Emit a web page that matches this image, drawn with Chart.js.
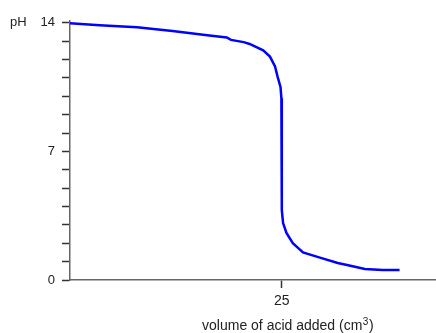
<!DOCTYPE html>
<html>
<head>
<meta charset="utf-8">
<script src="https://cdn.jsdelivr.net/npm/chart.js@4/dist/chart.umd.min.js"></script>
<style>
  html, body { margin: 0; padding: 0; background: #fff; }
  #wrap { width: 436px; height: 333px; }
</style>
</head>
<body>
<div id="wrap"><canvas id="titration"></canvas></div>
<script>
// volume of acid added (cm3) and the pH
const volume = [0, 3.5, 7.9, 12.1, 16.2, 18.5, 19.0, 20.5, 21.2, 22.8, 23.6, 24.2, 24.5, 24.85, 24.95,
                25.0, 25.15, 25.55, 26.3, 27.5, 29.5, 31.6, 32.7, 34.8, 36.9, 38.9];
const pH = [13.98, 13.87, 13.76, 13.56, 13.32, 13.2, 13.07, 12.95, 12.85, 12.5, 12.16, 11.62, 11.07, 10.5, 9.9,
            3.8, 3.1, 2.56, 2.0, 1.5, 1.22, 0.93, 0.82, 0.6, 0.54, 0.54];

const yTicks = [0, 1, 2, 3, 4, 5, 6, 7, 8, 9, 10, 11, 12, 13, 14];
const yLabels = [0, 7, 14];
const xTicks = [25];

const FONT = 'Liberation Sans, Arial, sans-serif';

// the "pH" and axis-title text (with a raised 3 for cm3)
const labelsPlugin = {
    id: 'axisText',
    afterDraw(chart) {
        const ctx = chart.ctx;
        ctx.save();
        ctx.fillStyle = '#222';
        ctx.font = '13px ' + FONT;
        ctx.textBaseline = 'middle';
        ctx.textAlign = 'left';
        ctx.fillText('pH', 10, chart.scales.y.getPixelForValue(14));

        const main = 'volume of acid added (cm';
        ctx.font = '14px ' + FONT;
        const w1 = ctx.measureText(main).width;
        const w3 = ctx.measureText(')').width;
        ctx.font = '10px ' + FONT;
        const w2 = ctx.measureText('3').width + 1;
        const total = w1 + w2 + w3;
        let x = chart.scales.x.getPixelForValue(25) + 6 - total / 2;
        const y = 326;
        ctx.font = '14px ' + FONT;
        ctx.fillText(main, x, y);
        ctx.font = '10px ' + FONT;
        ctx.fillText('3', x + w1 + 0.5, y - 4);
        ctx.font = '14px ' + FONT;
        ctx.fillText(')', x + w1 + w2, y);
        ctx.restore();
    }
};

const ctx = document.getElementById('titration').getContext('2d');
const chart = new Chart(ctx, {
    type: 'line',
    data: {
        datasets: [
            {
                data: volume.map((v, i) => ({ x: v, y: pH[i] })),
                borderColor: '#0000ff',
                borderWidth: 2.5,
                pointRadius: 0,
                tension: 0,
                fill: false
            }
        ]
    },
    plugins: [labelsPlugin],
    options: {
        responsive: true,
        maintainAspectRatio: false,
        animation: false,
        layout: { padding: { top: 21, right: 0, left: 0, bottom: 0 } },
        plugins: { legend: { display: false }, tooltip: { enabled: false } },
        scales: {
            x: {
                type: 'linear',
                min: 0,
                max: 43.2,
                afterBuildTicks: s => { s.ticks = xTicks.map(v => ({ value: v })); },
                afterFit: s => { s.height = 53; },
                border: { color: '#666', width: 1.5 },
                grid: { drawOnChartArea: false, tickLength: 8, tickColor: '#333', tickWidth: 1.5 },
                ticks: { color: '#222', font: { family: FONT, size: 14 }, padding: 5, maxRotation: 0, autoSkip: false }
            },
            y: {
                min: 0,
                max: 14.1,
                afterBuildTicks: s => { s.ticks = yTicks.map(v => ({ value: v })); },
                afterFit: s => { s.width = 70; },
                border: { color: '#666', width: 1.5 },
                grid: { drawOnChartArea: false, tickLength: 8, tickColor: '#333', tickWidth: 1.5 },
                ticks: {
                    color: '#222',
                    font: { family: FONT, size: 13 },
                    padding: 7,
                    autoSkip: false,
                    callback: v => yLabels.includes(v) ? String(v) : ''
                }
            }
        }
    }
});
</script>
</body>
</html>
